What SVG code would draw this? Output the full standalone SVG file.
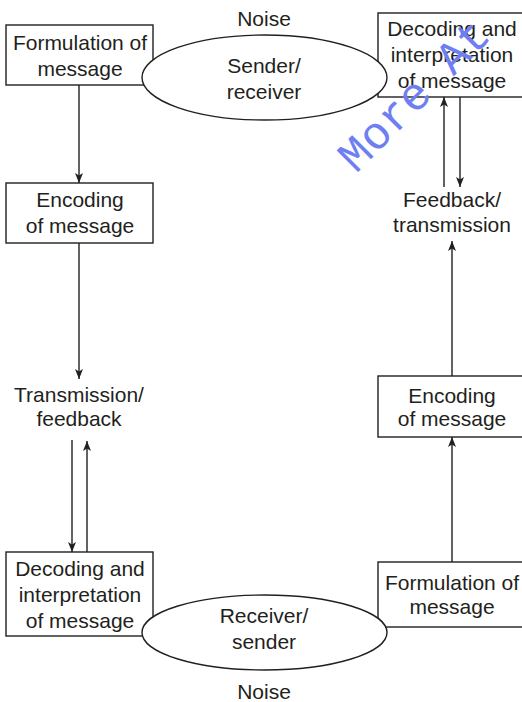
<svg xmlns="http://www.w3.org/2000/svg" width="522" height="702" viewBox="0 0 522 702">
<defs>
<marker id="ah" markerUnits="userSpaceOnUse" markerWidth="10" markerHeight="8" refX="10" refY="4" orient="auto">
<path d="M0,0 L10,4 L0,8 L2.5,4 z" fill="#231f20"/>
</marker>
<style>
.t{font-family:"Liberation Sans",Arial,sans-serif;font-size:21px;fill:#231f20;text-anchor:middle}
.b{fill:#fff;stroke:#231f20;stroke-width:1.4}
.c{stroke:#231f20;stroke-width:1.4;fill:none}
.a{stroke:#231f20;stroke-width:1.4;fill:none;marker-end:url(#ah)}
.w{font-family:"Liberation Mono","Courier New",monospace;font-size:46px;fill:#6f7ff2}
</style>
</defs>
<rect width="522" height="702" fill="#fff"/>
<g id="connectors">
<line class="a" x1="79" y1="85" x2="79" y2="183"/>
<line class="a" x1="79" y1="243" x2="79" y2="379"/>
<line class="a" x1="72" y1="440" x2="72" y2="552"/>
<line class="a" x1="87" y1="552" x2="87" y2="441"/>
<line class="a" x1="452" y1="562" x2="452" y2="437"/>
<line class="a" x1="452" y1="376" x2="452" y2="241"/>
<line class="a" x1="444" y1="187" x2="444" y2="97"/>
<line class="a" x1="460" y1="97" x2="460" y2="187"/>
</g>
<g id="formulation-top">
<rect class="b" x="6" y="25" width="147" height="60"/>
<text class="t" x="80" y="50">Formulation of</text>
<text class="t" x="80" y="76">message</text>
</g>
<g id="decoding-top">
<rect class="b" x="378" y="13" width="160" height="84"/>
<text class="t" x="452" y="36">Decoding and</text>
<text class="t" x="452" y="62">interpretation</text>
<text class="t" x="452" y="88">of message</text>
</g>
<g id="sender-receiver">
<ellipse class="b" cx="264.5" cy="77.5" rx="122.5" ry="42.5"/>
<text class="t" x="264" y="73">Sender/</text>
<text class="t" x="264" y="99">receiver</text>
</g>
<g id="noise-top">
<text class="t" x="264" y="26">Noise</text>
</g>
<g id="encoding-left">
<rect class="b" x="6" y="183" width="147" height="60"/>
<text class="t" x="80" y="207">Encoding</text>
<text class="t" x="80" y="233">of message</text>
</g>
<g id="transmission-feedback">
<text class="t" x="79" y="402">Transmission/</text>
<text class="t" x="79" y="426">feedback</text>
</g>
<g id="feedback-transmission">
<text class="t" x="452" y="207">Feedback/</text>
<text class="t" x="452" y="232">transmission</text>
</g>
<g id="encoding-right">
<rect class="b" x="378" y="376" width="160" height="61"/>
<text class="t" x="452" y="403">Encoding</text>
<text class="t" x="452" y="426">of message</text>
</g>
<g id="decoding-bottom">
<rect class="b" x="6" y="552" width="147" height="84"/>
<text class="t" x="80" y="576">Decoding and</text>
<text class="t" x="80" y="602">interpretation</text>
<text class="t" x="80" y="628">of message</text>
</g>
<g id="formulation-bottom">
<rect class="b" x="378" y="562" width="160" height="65"/>
<text class="t" x="452" y="590">Formulation of</text>
<text class="t" x="452" y="614">message</text>
</g>
<g id="receiver-sender">
<ellipse class="b" cx="264.5" cy="632.5" rx="122.5" ry="37.5"/>
<text class="t" x="264" y="623">Receiver/</text>
<text class="t" x="264" y="649">sender</text>
</g>
<g id="noise-bottom">
<text class="t" x="264" y="699">Noise</text>
</g>
<text class="w" transform="translate(356,174) rotate(-45)">More At</text>
</svg>
